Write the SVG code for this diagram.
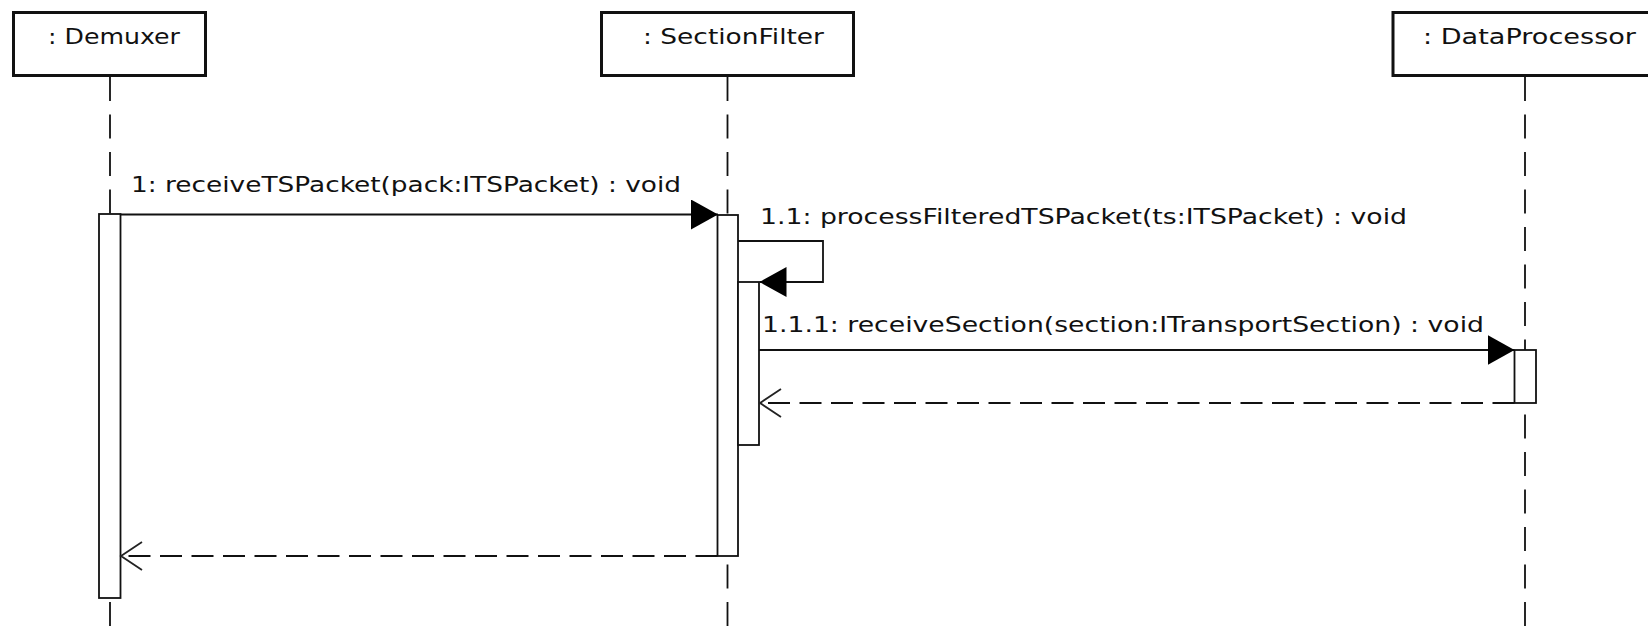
<svg xmlns="http://www.w3.org/2000/svg" width="1648" height="631" viewBox="0 0 1648 631">
  <style>
    .head { fill: #fff; stroke: #111; stroke-width: 3; }
    .label { font-family: "DejaVu Sans", "Liberation Sans", sans-serif; font-size: 22px; fill: #111; }
    .lifeline { fill: none; stroke: #111; stroke-width: 1.8; stroke-dasharray: 24 13.5; }
    .act { fill: #fff; stroke: #111; stroke-width: 1.8; }
    .call { fill: none; stroke: #111; stroke-width: 1.8; marker-end: url(#filled); }
    .ret { fill: none; stroke: #111; stroke-width: 1.8; stroke-dasharray: 22 9.5; marker-end: url(#open); }
  </style>
  <defs>
    <marker id="filled" markerUnits="userSpaceOnUse" markerWidth="28" markerHeight="30" refX="27" refY="15" orient="auto">
      <path d="M0,0 L27,15 L0,30 Z" fill="#000" stroke="none"/>
    </marker>
    <marker id="open" markerUnits="userSpaceOnUse" markerWidth="24" markerHeight="32" refX="22" refY="15" orient="auto">
      <path d="M1,1 L22,15 L1,29" fill="none" stroke="#222" stroke-width="1.8" stroke-dasharray="none"/>
    </marker>
  </defs>
  <rect width="1648" height="631" fill="#fff"/>

  <!-- lifelines -->
  <g id="lifelines">
    <line class="lifeline" x1="110" y1="77" x2="110" y2="631"/>
    <line class="lifeline" x1="727.5" y1="77" x2="727.5" y2="631"/>
    <line class="lifeline" x1="1525" y1="77" x2="1525" y2="631"/>
  </g>

  <!-- participants -->
  <g id="demuxer">
    <rect class="head" x="13.5" y="12.5" width="192" height="63"/>
    <text class="label" x="48" y="44" textLength="132" lengthAdjust="spacingAndGlyphs">: Demuxer</text>
    <rect class="act" x="99" y="214" width="21.5" height="384"/>
  </g>
  <g id="sectionfilter">
    <rect class="head" x="601.5" y="12.5" width="252" height="63"/>
    <text class="label" x="643" y="44" textLength="181" lengthAdjust="spacingAndGlyphs">: SectionFilter</text>
    <rect class="act" x="717.5" y="215" width="20.5" height="341"/>
    <rect class="act" x="738" y="282" width="21" height="163"/>
  </g>
  <g id="dataprocessor">
    <rect class="head" x="1393" y="12.5" width="264" height="63"/>
    <text class="label" x="1423" y="44" textLength="213" lengthAdjust="spacingAndGlyphs">: DataProcessor</text>
    <rect class="act" x="1514.5" y="350" width="21.5" height="53"/>
  </g>

  <!-- messages -->
  <g id="connectors">
    <line class="call" x1="120.5" y1="214.5" x2="718" y2="214.5"/>
    <path class="call" d="M738,241 H823 V282 H759.5"/>
    <line class="call" x1="759" y1="350" x2="1514.5" y2="350"/>
    <line class="ret" x1="1514.5" y1="403" x2="760" y2="403"/>
    <line class="ret" x1="717.5" y1="556" x2="121" y2="556"/>
  </g>

  <g id="message-labels">
    <text class="label" x="131" y="192" textLength="550" lengthAdjust="spacingAndGlyphs">1: receiveTSPacket(pack:ITSPacket) : void</text>
    <text class="label" x="760" y="224" textLength="647" lengthAdjust="spacingAndGlyphs">1.1: processFilteredTSPacket(ts:ITSPacket) : void</text>
    <text class="label" x="762" y="332" textLength="722" lengthAdjust="spacingAndGlyphs">1.1.1: receiveSection(section:ITransportSection) : void</text>
  </g>
</svg>
